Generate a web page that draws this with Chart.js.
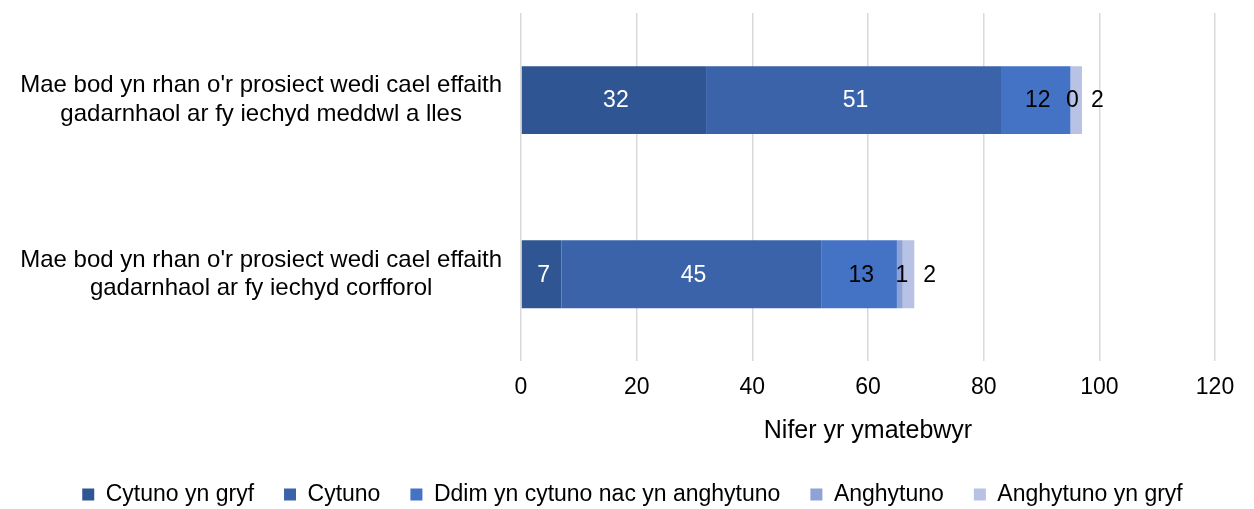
<!DOCTYPE html>
<html>
<head>
<meta charset="utf-8">
<script src="https://cdn.jsdelivr.net/npm/chart.js@4.4.1/dist/chart.umd.min.js"></script>
<style>
  body { margin: 0; background: #fff; }
  #wrap { width: 1254px; height: 509px; }
</style>
</head>
<body>
<div id="wrap"><canvas id="chart" width="1254" height="509"></canvas></div>
<script>
// statements shown on the y axis (two lines each)
const statements = [
    ["Mae bod yn rhan o'r prosiect wedi cael effaith", "gadarnhaol ar fy iechyd meddwl a lles"],
    ["Mae bod yn rhan o'r prosiect wedi cael effaith", "gadarnhaol ar fy iechyd corfforol"]
];
const cytunoYnGryf = [32, 7];
const cytuno = [51, 45];
const ddimYnCytuno = [12, 13];
const anghytuno = [0, 1];
const anghytunoYnGryf = [2, 2];
const xTicks = [0, 20, 40, 60, 80, 100, 120];

const FONT = "'Liberation Sans', Arial, sans-serif";

// value labels drawn on each segment
const segmentLabels = {
    id: 'segmentLabels',
    afterDatasetsDraw(chart) {
        const ctx = chart.ctx;
        ctx.save();
        ctx.font = '23px ' + FONT;
        ctx.textBaseline = 'middle';
        chart.data.datasets.forEach((ds, i) => {
            const meta = chart.getDatasetMeta(i);
            meta.data.forEach((el, j) => {
                const v = ds.data[j];
                ctx.fillStyle = i < 2 ? '#ffffff' : '#000000';
                if (i === 4) {
                    ctx.textAlign = 'left';
                    ctx.fillText(v, el.x + 9, el.y + 1);
                } else {
                    ctx.textAlign = 'center';
                    ctx.fillText(v, (el.x + el.base) / 2 + 2, el.y + 1);
                }
            });
        });
        ctx.restore();
    }
};

// nudge the legend a little to the right, as in the original
const legendShift = {
    id: 'legendShift',
    afterLayout(chart) {
        if (chart.legend) {
            chart.legend.left += 20;
            chart.legend.right += 20;
        }
    }
};

new Chart(document.getElementById('chart'), {
    type: 'bar',
    data: {
        labels: statements,
        datasets: [
            { label: 'Cytuno yn gryf', data: cytunoYnGryf, backgroundColor: '#2F5592' },
            { label: 'Cytuno', data: cytuno, backgroundColor: '#3A63AA' },
            { label: 'Ddim yn cytuno nac yn anghytuno', data: ddimYnCytuno, backgroundColor: '#4472C4' },
            { label: 'Anghytuno', data: anghytuno, backgroundColor: '#8FA2D6' },
            { label: 'Anghytuno yn gryf', data: anghytunoYnGryf, backgroundColor: '#B7C2E5' }
        ]
    },
    options: {
        indexAxis: 'y',
        responsive: false,
        animation: false,
        barPercentage: 0.78,
        categoryPercentage: 0.5,
        layout: { padding: { left: 10, right: 39, top: 13, bottom: -7 } },
        plugins: {
            legend: {
                position: 'bottom',
                labels: {
                    font: { family: FONT, size: 23 },
                    color: '#000',
                    boxWidth: 12,
                    boxHeight: 12,
                    padding: 30
                }
            },
            tooltip: { enabled: false }
        },
        scales: {
            x: {
                stacked: true,
                min: 0,
                max: 120,
                afterBuildTicks: s => { s.ticks = xTicks.map(v => ({ value: v })); },
                afterFit: s => { s.paddingLeft = 0; s.paddingRight = 0; },
                grid: { color: '#D9D9D9', lineWidth: 1.5, drawTicks: false },
                border: { display: false },
                ticks: { font: { family: FONT, size: 23 }, color: '#000', padding: 12 },
                title: {
                    display: true,
                    text: 'Nifer yr ymatebwyr',
                    font: { family: FONT, size: 25 },
                    color: '#000',
                    padding: { top: 3, bottom: 7 }
                }
            },
            y: {
                stacked: true,
                grid: { display: false },
                border: { display: false },
                afterFit: s => { s.width = 511; s.paddingTop = 0; s.paddingBottom = 0; },
                ticks: { font: { family: FONT, size: 24 }, color: '#000', padding: 11, lineHeight: 1.25, crossAlign: 'center' }
            }
        }
    },
    plugins: [segmentLabels, legendShift]
});
</script>
</body>
</html>
